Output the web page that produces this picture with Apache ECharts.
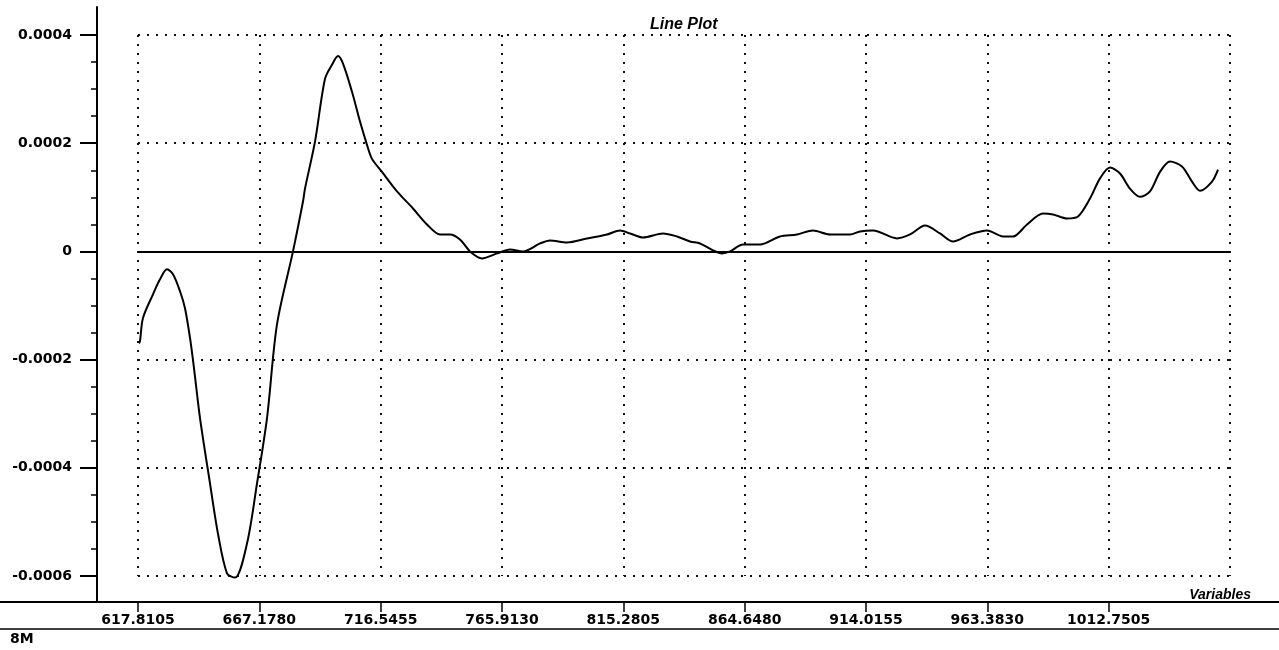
<!DOCTYPE html>
<html>
<head>
<meta charset="utf-8">
<script src="https://cdn.jsdelivr.net/npm/echarts@6/dist/echarts.min.js"></script>
<style>
html,body{margin:0;padding:0;background:#fff;}
#chart{width:1279px;height:650px;}
</style>
</head>
<body>
<div id="chart"></div>
<script>
// ---- data ----
const xValues = [618.22, 618.62, 619.84, 623.91, 626.76, 629.61, 632.05, 634.90, 636.93, 638.97,
  640.60, 643.04, 647.11, 650.36, 654.02, 657.28, 662.16, 666.23, 670.30, 674.36,
  680.87, 684.94, 685.76, 689.83, 693.90, 696.74, 699.19, 701.22, 704.88, 708.14,
  710.98, 713.02, 717.09, 723.19, 729.70, 735.40, 740.69, 744.76, 748.82, 752.89,
  757.78, 763.88, 769.17, 774.46, 781.38, 785.44, 792.36, 800.50, 808.64, 813.92,
  817.99, 823.28, 831.42, 837.11, 842.41, 846.48, 851.77, 855.43, 858.69, 863.98,
  870.89, 879.03, 885.95, 892.46, 899.37, 907.51, 911.58, 916.87, 926.63, 931.92,
  938.03, 944.13, 949.42, 956.34, 963.26, 969.76, 973.83, 979.53, 986.04, 990.11,
  995.80, 1000.28, 1005.16, 1009.23, 1013.30, 1017.36, 1021.43, 1025.50, 1029.57, 1033.64,
  1037.71, 1042.59, 1046.66, 1049.91, 1054.80, 1057.24];
const yValues = [-0.000170, -0.000166, -0.000123, -0.0000793, -0.0000516, -0.0000332, -0.0000424, -0.0000737, -0.000105, -0.000160,
  -0.000216, -0.000308, -0.000429, -0.000522, -0.000595, -0.000603, -0.000540, -0.000429, -0.000308, -0.000135,
  0.000000, 0.0000922, 0.000116, 0.000203, 0.000319, 0.000345, 0.000361, 0.000347, 0.000295, 0.000240,
  0.000197, 0.000171, 0.000147, 0.000111, 0.0000793, 0.0000498, 0.0000313, 0.0000313, 0.0000221, 0.000000,
  -0.0000129, -0.0000037, 0.0000037, 0.000000, 0.0000147, 0.0000203, 0.0000166, 0.0000240, 0.0000313, 0.0000387,
  0.0000332, 0.0000258, 0.0000332, 0.0000276, 0.0000184, 0.0000147, 0.0000018, -0.0000037, 0.000000, 0.0000129,
  0.0000129, 0.0000276, 0.0000313, 0.0000387, 0.0000313, 0.0000313, 0.0000369, 0.0000387, 0.0000240, 0.0000313,
  0.0000479, 0.0000332, 0.0000184, 0.0000313, 0.0000387, 0.0000276, 0.0000276, 0.0000498, 0.0000700, 0.0000682,
  0.0000608, 0.0000645, 0.0000977, 0.000135, 0.000155, 0.000144, 0.000116, 0.000101, 0.000111, 0.000147,
  0.000166, 0.000157, 0.000129, 0.000112, 0.000129, 0.000151];
const xTickStart = 617.8105;
const xTickStep = 49.3675;
const xTickCount = 9;            // intervals
const yMin = -0.0006, yMax = 0.0004, yStep = 0.0002;
const titleText = 'Line Plot';
const xAxisName = 'Variables';
const footText = '8M';

const seriesData = xValues.map((x, i) => [x, yValues[i]]);
const xMax = +(xTickStart + xTickCount * xTickStep).toFixed(4);

const labelFont = { fontFamily: 'DejaVu Sans', fontWeight: 'bold', fontSize: 14, color: '#000' };
const dotted = { color: '#111', width: 2, type: [2, 7] };

const chart = echarts.init(document.getElementById('chart'), null, { renderer: 'canvas' });
chart.setOption({
  backgroundColor: '#fff',
  animation: false,
  title: [
    { text: titleText, left: 645, top: 12,
      textStyle: { fontFamily: 'Liberation Sans', fontStyle: 'italic', fontWeight: 'bold', fontSize: 16, color: '#000' } },
    { text: xAxisName, right: 23, top: 583,
      textStyle: { fontFamily: 'Liberation Sans', fontStyle: 'italic', fontWeight: 'bold', fontSize: 14, color: '#000' } },
    { text: footText, left: 5, top: 627,
      textStyle: { fontFamily: 'DejaVu Sans', fontWeight: 'bold', fontSize: 14, color: '#000' } }
  ],
  grid: [
    { left: 138, right: 49, top: 35, bottom: 74 },
    { left: 138, right: 49, top: 7, bottom: 48 },
    { left: 0, right: 0, top: 7, bottom: 48 },
    { left: 0, right: 0, top: 7, bottom: 21 }
  ],
  xAxis: [
    { gridIndex: 0, type: 'value', min: xTickStart, max: xMax, interval: xTickStep,
      position: 'bottom', offset: 26,
      axisLine: { show: false, onZero: false },
      axisTick: { show: true, inside: false, length: 10, lineStyle: { color: '#000', width: 1.5 } },
      axisLabel: Object.assign({ margin: 11, showMaxLabel: false, showMinLabel: true,
        formatter: v => v.toFixed(4) }, labelFont),
      splitLine: { show: true, lineStyle: dotted } },
    { gridIndex: 1, type: 'value', show: false, axisLine: { onZero: false } },
    { gridIndex: 2, type: 'value', min: 0, max: 1, position: 'bottom',
      axisLine: { show: true, onZero: false, lineStyle: { color: '#000', width: 2 } },
      axisTick: { show: false }, axisLabel: { show: false }, splitLine: { show: false } },
    { gridIndex: 3, type: 'value', min: 0, max: 1, position: 'bottom',
      axisLine: { show: true, onZero: false, lineStyle: { color: '#000', width: 1.5 } },
      axisTick: { show: false }, axisLabel: { show: false }, splitLine: { show: false } }
  ],
  yAxis: [
    { gridIndex: 0, type: 'value', min: yMin, max: yMax, interval: yStep, offset: 41,
      axisLine: { show: true, onZero: false, lineStyle: { color: '#000', width: 2 } },
      axisTick: { show: true, inside: false, length: 17, lineStyle: { color: '#000', width: 2 } },
      minorTick: { show: true, splitNumber: 4, length: 6, lineStyle: { color: '#000', width: 1.5 } },
      axisLabel: Object.assign({ margin: 25,
        formatter: v => Math.abs(v) < 1e-12 ? '0' : v.toFixed(4) }, labelFont),
      splitLine: { show: true, lineStyle: dotted } },
    { gridIndex: 1, type: 'value', min: yMin - yStep / 4, max: yMax + yStep / 4, offset: 41,
      axisLine: { show: true, onZero: false, lineStyle: { color: '#000', width: 2 } },
      axisTick: { show: false }, axisLabel: { show: false }, splitLine: { show: false } },
    { gridIndex: 2, type: 'value', show: false, axisLine: { onZero: false } },
    { gridIndex: 3, type: 'value', show: false, axisLine: { onZero: false } }
  ],
  series: [{
    type: 'line', xAxisIndex: 0, yAxisIndex: 0,
    data: seriesData, smooth: 0.3, showSymbol: false, symbol: 'none', clip: false,
    lineStyle: { color: '#000', width: 2 },
    markLine: { silent: true, symbol: 'none', label: { show: false },
      lineStyle: { color: '#000', width: 2, type: 'solid' },
      data: [{ yAxis: 0 }] }
  }]
});
</script>
</body>
</html>
